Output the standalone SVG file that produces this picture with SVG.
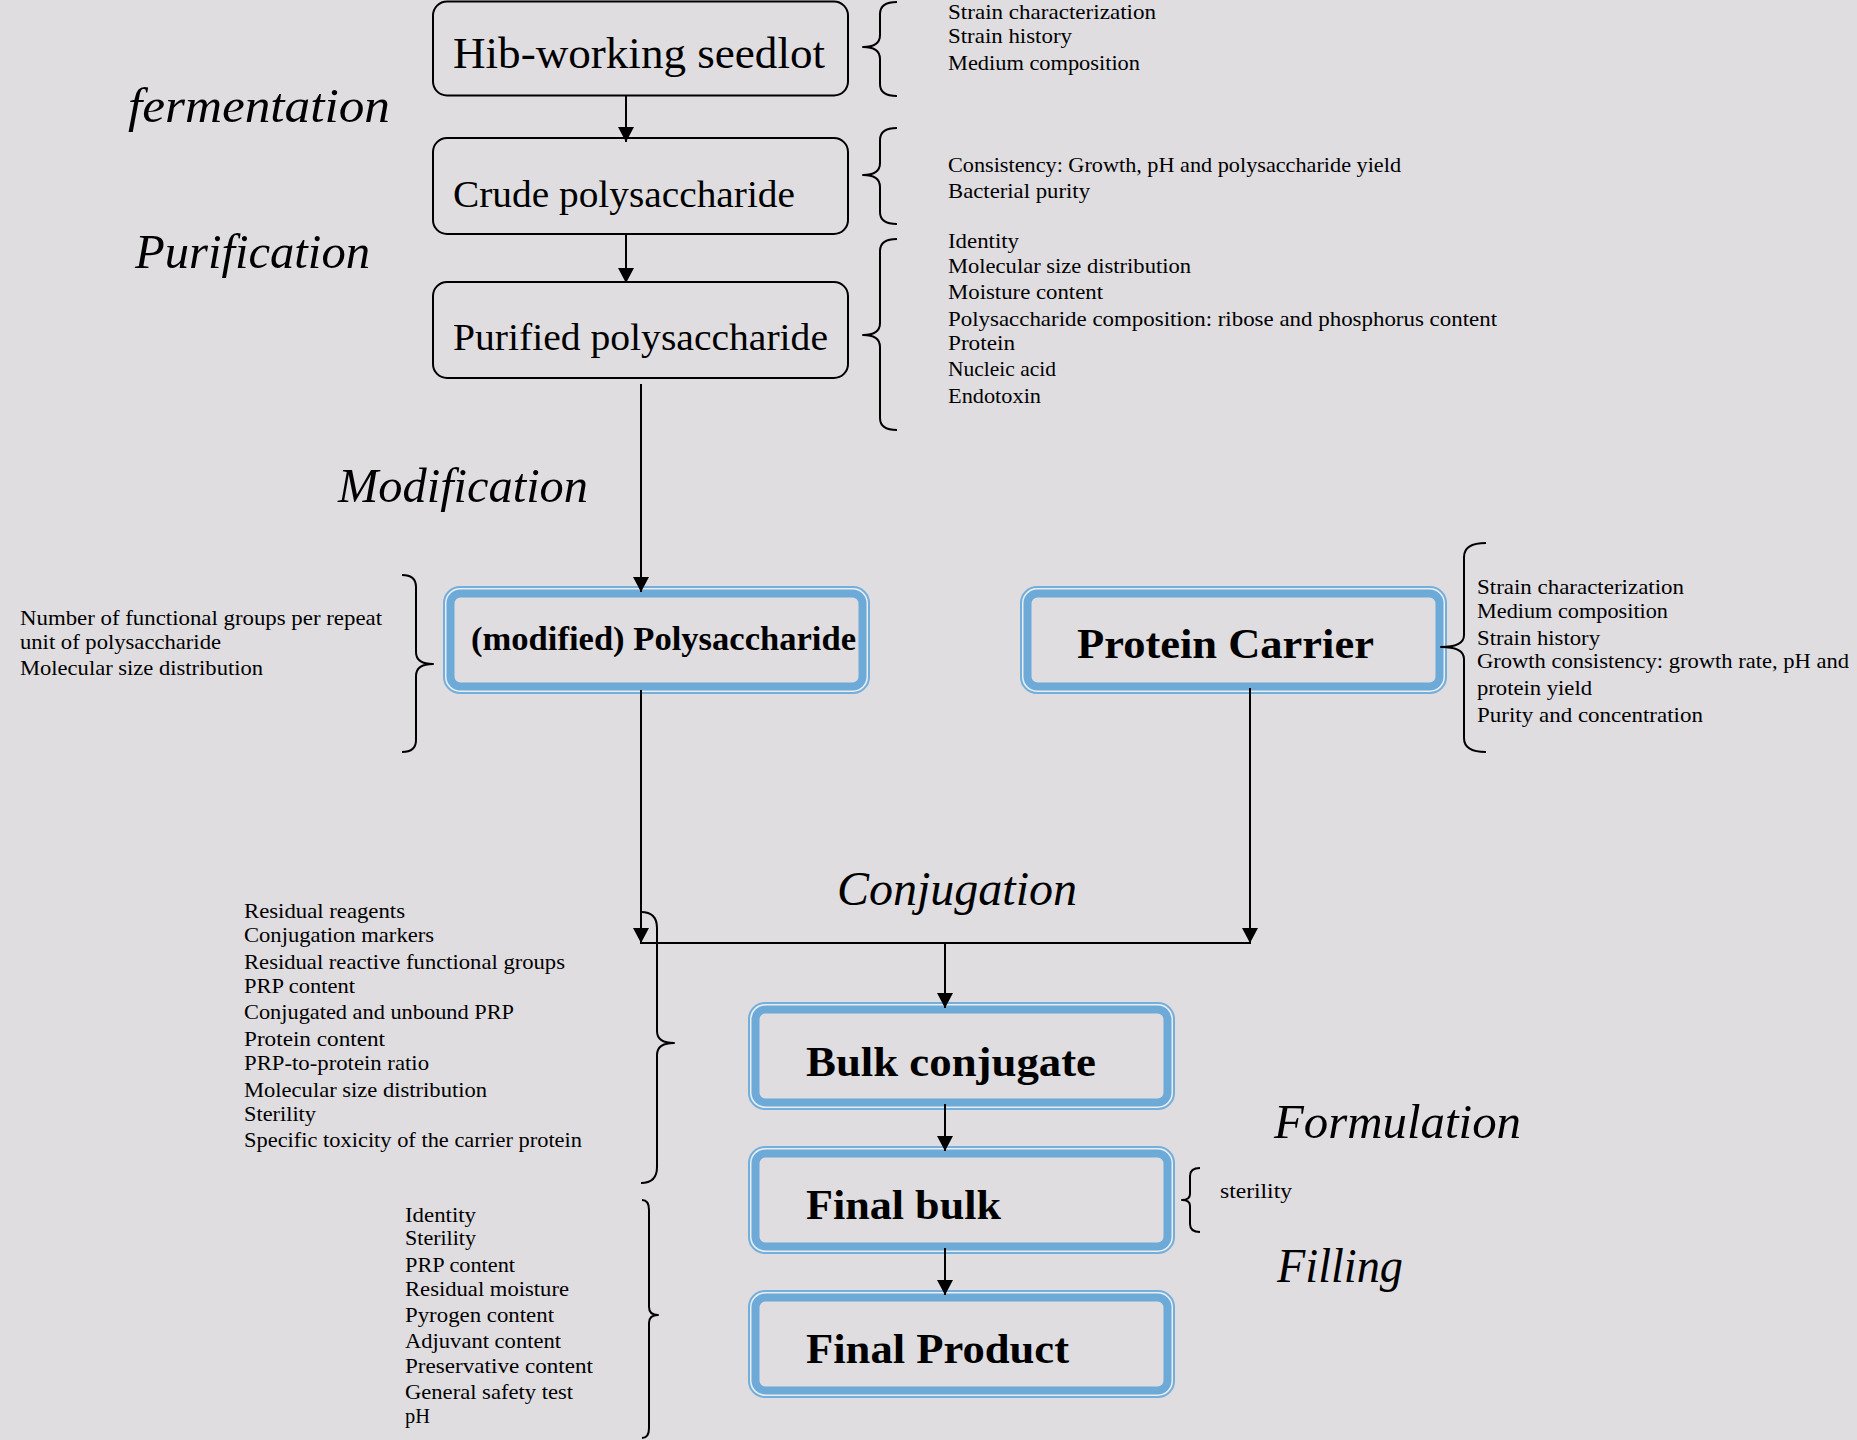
<svg xmlns="http://www.w3.org/2000/svg" xmlns:xlink="http://www.w3.org/1999/xlink" width="1857" height="1440" viewBox="0 0 1857 1440">
  <style>
    .bg { fill: #dfdde0; }
    .box { fill: none; stroke: #000; stroke-width: 2; }
    .line { fill: none; stroke: #000; stroke-width: 2; }
    .brace { fill: none; stroke: #000; stroke-width: 2; stroke-linejoin: round; }
    .f-outer { fill: none; stroke: #74afdb; stroke-width: 2; }
    .f-gap { fill: none; stroke: #e7edf3; stroke-width: 3; }
    .f-band { fill: none; stroke: #6eaad8; stroke-width: 8; }
    text { font-family: "Liberation Serif", "DejaVu Serif", serif; fill: #000; }
    .title { font-size: 38px; }
    .title-lg { font-size: 44px; }
    .bold { font-weight: bold; font-size: 42px; }
    .stage { font-style: italic; font-size: 48px; }
    .note { font-size: 21px; }
  </style>
  <defs>
    <marker id="arrow" markerUnits="userSpaceOnUse" markerWidth="16" markerHeight="16" refX="15" refY="8" orient="auto">
      <path d="M0,0 L15,8 L0,16 z" fill="#000"/>
    </marker>
    <!-- double blue frame used by the conjugate-stage boxes -->
    <g id="frame">
      <rect class="f-gap" x="3" y="3" width="421" height="102" rx="14"/>
      <rect class="f-outer" x="1" y="1" width="425" height="106" rx="16"/>
      <rect class="f-band" x="7.5" y="7.5" width="412" height="93" rx="10"/>
    </g>
  </defs>

  <rect class="bg" x="0" y="0" width="1857" height="1440"/>

  <!-- stage labels -->
  <g id="stages">
    <text class="stage" x="128" y="122" textLength="262" lengthAdjust="spacingAndGlyphs">fermentation</text>
    <text class="stage" x="135" y="268" textLength="235" lengthAdjust="spacingAndGlyphs">Purification</text>
    <text class="stage" x="338" y="502" textLength="250" lengthAdjust="spacingAndGlyphs">Modification</text>
    <text class="stage" x="837" y="905" textLength="240" lengthAdjust="spacingAndGlyphs">Conjugation</text>
    <text class="stage" x="1274" y="1138" textLength="247" lengthAdjust="spacingAndGlyphs">Formulation</text>
    <text class="stage" x="1277" y="1282" textLength="126" lengthAdjust="spacingAndGlyphs">Filling</text>
  </g>

  <!-- process nodes -->
  <g id="seedlot">
    <rect class="box" x="433" y="1.5" width="415" height="94" rx="14"/>
    <text class="title-lg" x="453" y="68" textLength="372" lengthAdjust="spacingAndGlyphs">Hib-working seedlot</text>
  </g>
  <g id="crude-ps">
    <rect class="box" x="433" y="138" width="415" height="96" rx="14"/>
    <text class="title" x="453" y="207" textLength="342" lengthAdjust="spacingAndGlyphs">Crude polysaccharide</text>
  </g>
  <g id="purified-ps">
    <rect class="box" x="433" y="282" width="415" height="96" rx="14"/>
    <text class="title" x="453" y="350" textLength="375" lengthAdjust="spacingAndGlyphs">Purified polysaccharide</text>
  </g>
  <g id="modified-ps">
    <use xlink:href="#frame" href="#frame" x="443" y="586"/>
    <text class="bold" style="font-size:33px" x="471" y="650" textLength="385" lengthAdjust="spacingAndGlyphs">(modified) Polysaccharide</text>
  </g>
  <g id="protein-carrier">
    <use xlink:href="#frame" href="#frame" x="1020" y="586"/>
    <text class="bold" x="1077" y="658" textLength="297" lengthAdjust="spacingAndGlyphs">Protein Carrier</text>
  </g>
  <g id="bulk-conjugate">
    <use xlink:href="#frame" href="#frame" x="748" y="1002"/>
    <text class="bold" style="font-size:43px" x="806" y="1076" textLength="290" lengthAdjust="spacingAndGlyphs">Bulk conjugate</text>
  </g>
  <g id="final-bulk">
    <use xlink:href="#frame" href="#frame" x="748" y="1146"/>
    <text class="bold" x="806" y="1219" textLength="195" lengthAdjust="spacingAndGlyphs">Final bulk</text>
  </g>
  <g id="final-product">
    <use xlink:href="#frame" href="#frame" x="748" y="1290"/>
    <text class="bold" x="806" y="1363" textLength="263" lengthAdjust="spacingAndGlyphs">Final Product</text>
  </g>

  <!-- connectors -->
  <g id="connectors">
    <line class="line" x1="626" y1="96" x2="626" y2="142" marker-end="url(#arrow)"/>
    <line class="line" x1="626" y1="234" x2="626" y2="283" marker-end="url(#arrow)"/>
    <line class="line" x1="641" y1="384" x2="641" y2="592" marker-end="url(#arrow)"/>
    <line class="line" x1="641" y1="690" x2="641" y2="943" marker-end="url(#arrow)"/>
    <line class="line" x1="1250" y1="688" x2="1250" y2="943" marker-end="url(#arrow)"/>
    <line class="line" x1="640" y1="943" x2="1251" y2="943"/>
    <line class="line" x1="945" y1="943" x2="945" y2="1008" marker-end="url(#arrow)"/>
    <line class="line" x1="945" y1="1104" x2="945" y2="1151" marker-end="url(#arrow)"/>
    <line class="line" x1="945" y1="1248" x2="945" y2="1295" marker-end="url(#arrow)"/>
  </g>

  <!-- quality-control annotations -->
  <g id="qc-seedlot">
    <path class="brace" d="M897,2 Q880,2 880,14 L880,35 Q880,47 863,47 Q880,47 880,59 L880,84 Q880,96 897,96"/>
    <text class="note" x="948" y="19" textLength="208" lengthAdjust="spacingAndGlyphs">Strain characterization</text>
    <text class="note" x="948" y="43" textLength="124" lengthAdjust="spacingAndGlyphs">Strain history</text>
    <text class="note" x="948" y="70" textLength="192" lengthAdjust="spacingAndGlyphs">Medium composition</text>
  </g>
  <g id="qc-crude">
    <path class="brace" d="M897,128 Q880,128 880,140 L880,163 Q880,175 863,175 Q880,175 880,187 L880,212 Q880,224 897,224"/>
    <text class="note" x="948" y="172" textLength="453" lengthAdjust="spacingAndGlyphs">Consistency: Growth, pH and polysaccharide yield</text>
    <text class="note" x="948" y="198" textLength="142" lengthAdjust="spacingAndGlyphs">Bacterial purity</text>
  </g>
  <g id="qc-purified">
    <path class="brace" d="M897,239 Q880,239 880,251 L880,323 Q880,335 863,335 Q880,335 880,347 L880,418 Q880,430 897,430"/>
    <text class="note" x="948" y="248" textLength="71" lengthAdjust="spacingAndGlyphs">Identity</text>
    <text class="note" x="948" y="273" textLength="243" lengthAdjust="spacingAndGlyphs">Molecular size distribution</text>
    <text class="note" x="948" y="299" textLength="155" lengthAdjust="spacingAndGlyphs">Moisture content</text>
    <text class="note" x="948" y="326" textLength="549" lengthAdjust="spacingAndGlyphs">Polysaccharide composition: ribose and phosphorus content</text>
    <text class="note" x="948" y="350" textLength="67" lengthAdjust="spacingAndGlyphs">Protein</text>
    <text class="note" x="948" y="376" textLength="108" lengthAdjust="spacingAndGlyphs">Nucleic acid</text>
    <text class="note" x="948" y="403" textLength="93" lengthAdjust="spacingAndGlyphs">Endotoxin</text>
  </g>
  <g id="qc-modified">
    <path class="brace" d="M402,575 Q416,575 416,587 L416,652 Q416,664 433,664 Q416,664 416,676 L416,740 Q416,752 402,752"/>
    <text class="note" x="20" y="625" textLength="362" lengthAdjust="spacingAndGlyphs">Number of functional groups per repeat</text>
    <text class="note" x="20" y="649" textLength="201" lengthAdjust="spacingAndGlyphs">unit of polysaccharide</text>
    <text class="note" x="20" y="675" textLength="243" lengthAdjust="spacingAndGlyphs">Molecular size distribution</text>
  </g>
  <g id="qc-carrier">
    <path class="brace" d="M1486,543 Q1464,543 1464,557 L1464,635 Q1464,647 1441,647 Q1464,647 1464,659 L1464,738 Q1464,752 1486,752"/>
    <text class="note" x="1477" y="594" textLength="207" lengthAdjust="spacingAndGlyphs">Strain characterization</text>
    <text class="note" x="1477" y="618" textLength="191" lengthAdjust="spacingAndGlyphs">Medium composition</text>
    <text class="note" x="1477" y="645" textLength="123" lengthAdjust="spacingAndGlyphs">Strain history</text>
    <text class="note" x="1477" y="668" textLength="372" lengthAdjust="spacingAndGlyphs">Growth consistency: growth rate, pH and</text>
    <text class="note" x="1477" y="695" textLength="115" lengthAdjust="spacingAndGlyphs">protein yield</text>
    <text class="note" x="1477" y="722" textLength="226" lengthAdjust="spacingAndGlyphs">Purity and concentration</text>
  </g>
  <g id="qc-conjugate">
    <path class="brace" d="M641,912 Q657,912 657,928 L657,1031 Q657,1043 674,1043 Q657,1043 657,1055 L657,1167 Q657,1183 641,1183"/>
    <text class="note" x="244" y="918" textLength="161" lengthAdjust="spacingAndGlyphs">Residual reagents</text>
    <text class="note" x="244" y="942" textLength="190" lengthAdjust="spacingAndGlyphs">Conjugation markers</text>
    <text class="note" x="244" y="969" textLength="321" lengthAdjust="spacingAndGlyphs">Residual reactive functional groups</text>
    <text class="note" x="244" y="993" textLength="111" lengthAdjust="spacingAndGlyphs">PRP content</text>
    <text class="note" x="244" y="1019" textLength="270" lengthAdjust="spacingAndGlyphs">Conjugated and unbound PRP</text>
    <text class="note" x="244" y="1046" textLength="141" lengthAdjust="spacingAndGlyphs">Protein content</text>
    <text class="note" x="244" y="1070" textLength="185" lengthAdjust="spacingAndGlyphs">PRP-to-protein ratio</text>
    <text class="note" x="244" y="1097" textLength="243" lengthAdjust="spacingAndGlyphs">Molecular size distribution</text>
    <text class="note" x="244" y="1121" textLength="72" lengthAdjust="spacingAndGlyphs">Sterility</text>
    <text class="note" x="244" y="1147" textLength="338" lengthAdjust="spacingAndGlyphs">Specific toxicity of the carrier protein</text>
  </g>
  <g id="qc-final-bulk">
    <path class="brace" d="M1200,1168 Q1190,1168 1190,1176 L1190,1194 Q1190,1200 1182,1200 Q1190,1200 1190,1206 L1190,1224 Q1190,1232 1200,1232"/>
    <text class="note" x="1220" y="1198" textLength="72" lengthAdjust="spacingAndGlyphs">sterility</text>
  </g>
  <g id="qc-final-product">
    <path class="brace" d="M642,1200 Q649,1200 649,1210 L649,1307 Q649,1315 658,1315 Q649,1315 649,1323 L649,1428 Q649,1438 642,1438"/>
    <text class="note" x="405" y="1222" textLength="71" lengthAdjust="spacingAndGlyphs">Identity</text>
    <text class="note" x="405" y="1245" textLength="71" lengthAdjust="spacingAndGlyphs">Sterility</text>
    <text class="note" x="405" y="1272" textLength="110" lengthAdjust="spacingAndGlyphs">PRP content</text>
    <text class="note" x="405" y="1296" textLength="164" lengthAdjust="spacingAndGlyphs">Residual moisture</text>
    <text class="note" x="405" y="1322" textLength="149" lengthAdjust="spacingAndGlyphs">Pyrogen content</text>
    <text class="note" x="405" y="1348" textLength="156" lengthAdjust="spacingAndGlyphs">Adjuvant content</text>
    <text class="note" x="405" y="1373" textLength="188" lengthAdjust="spacingAndGlyphs">Preservative content</text>
    <text class="note" x="405" y="1399" textLength="168" lengthAdjust="spacingAndGlyphs">General safety test</text>
    <text class="note" x="405" y="1423" textLength="25" lengthAdjust="spacingAndGlyphs">pH</text>
  </g>
</svg>
